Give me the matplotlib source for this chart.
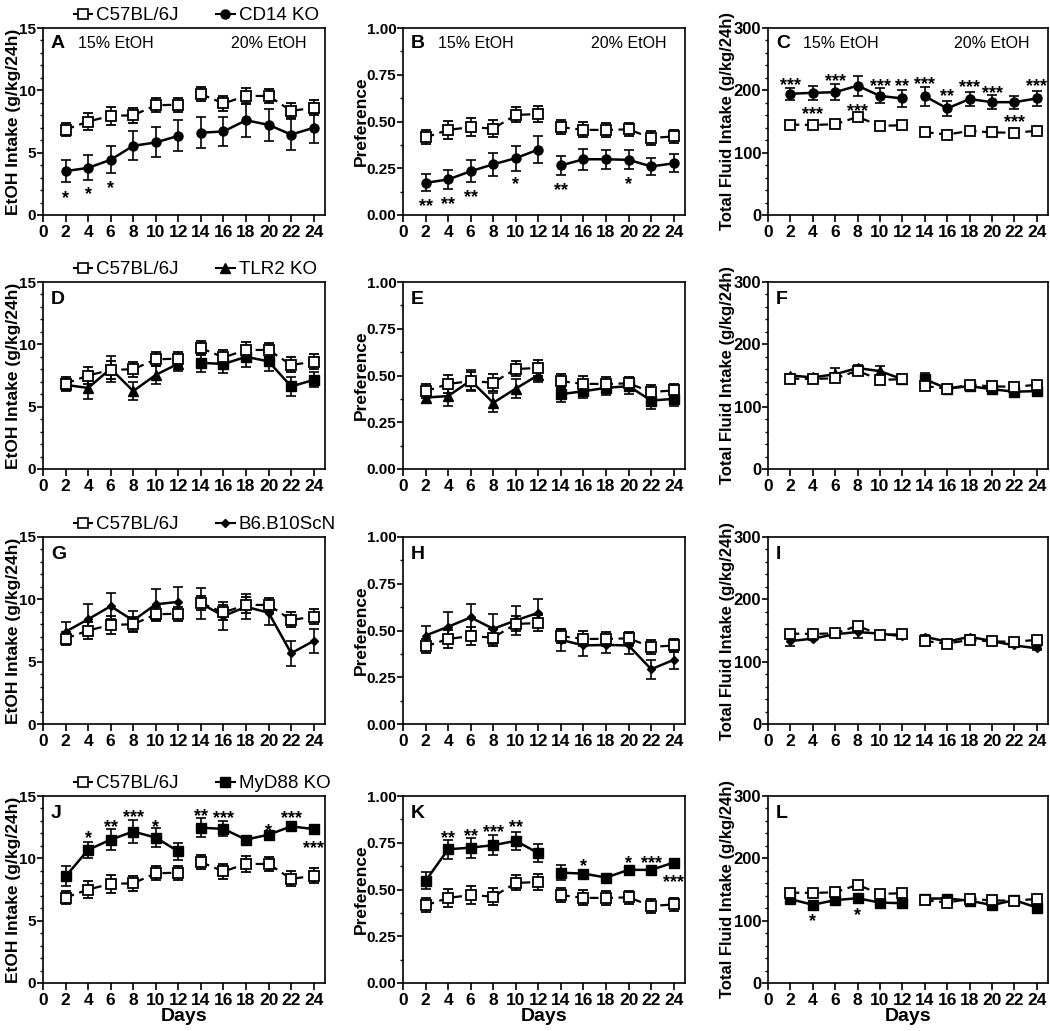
import matplotlib
matplotlib.use('Agg')
import matplotlib.pyplot as plt
from matplotlib.lines import Line2D
from matplotlib.ticker import MultipleLocator, FormatStrFormatter

plt.rcParams['font.family'] = ['Liberation Sans', 'DejaVu Sans']

# ---------------- data ----------------
days = [2, 4, 6, 8, 10, 12, 14, 16, 18, 20, 22, 24]

wt_etoh = [6.85, 7.5, 7.95, 8.0, 8.8, 8.85, 9.7, 8.95, 9.55, 9.55, 8.35, 8.6]
wt_etoh_err = [0.55, 0.65, 0.75, 0.6, 0.55, 0.55, 0.55, 0.6, 0.65, 0.55, 0.6, 0.6]
wt_pref = [0.415, 0.455, 0.47, 0.462, 0.535, 0.54, 0.47, 0.455, 0.455, 0.458, 0.412, 0.42]
wt_pref_err = [0.037, 0.046, 0.05, 0.046, 0.04, 0.042, 0.037, 0.04, 0.037, 0.034, 0.037, 0.035]
wt_fluid = [145, 144.5, 145.5, 157.5, 143, 144, 133, 129, 135, 132.5, 132, 135]
wt_fluid_err = [3, 3, 3, 4, 3, 3, 3, 3, 3, 3, 3, 3]

cd14_etoh = [3.52, 3.78, 4.43, 5.55, 5.82, 6.35, 6.6, 6.7, 7.6, 7.23, 6.45, 7.0]
cd14_etoh_err = [0.88, 1.0, 1.1, 1.15, 1.2, 1.25, 1.25, 1.2, 1.35, 1.3, 1.25, 1.2]
cd14_pref = [0.172, 0.19, 0.234, 0.271, 0.304, 0.35, 0.265, 0.298, 0.298, 0.295, 0.26, 0.276]
cd14_pref_err = [0.045, 0.05, 0.058, 0.062, 0.067, 0.072, 0.053, 0.055, 0.052, 0.05, 0.045, 0.048]
cd14_fluid = [194.5, 196, 197, 207.5, 191, 187, 190.5, 171, 186, 181, 181, 187]
cd14_fluid_err = [10, 11, 13, 16, 12, 14, 15, 12, 11, 11, 10.5, 12]

tlr2_etoh = [6.75, 6.5, 8.05, 6.25, 7.55, 8.45, 8.52, 8.42, 9.0, 8.63, 6.62, 7.15]
tlr2_etoh_err = [0.5, 0.9, 1.05, 0.75, 0.7, 0.6, 0.7, 0.75, 0.8, 0.8, 0.75, 0.6]
tlr2_pref = [0.382, 0.39, 0.473, 0.354, 0.43, 0.503, 0.40, 0.416, 0.434, 0.443, 0.366, 0.375]
tlr2_pref_err = [0.03, 0.055, 0.055, 0.05, 0.05, 0.04, 0.04, 0.035, 0.04, 0.04, 0.045, 0.04]
tlr2_fluid = [150, 147, 152, 162, 157, 144, 144, 129, 133, 128, 124, 125]
tlr2_fluid_err = [3, 3, 10, 5, 9, 3, 10, 3, 3, 3, 3, 3]

b6_etoh = [7.4, 8.4, 9.45, 8.3, 9.6, 9.8, 9.67, 8.66, 9.4, 8.93, 5.68, 6.66]
b6_etoh_err = [0.8, 1.25, 1.05, 0.8, 1.25, 1.2, 1.25, 1.15, 1.0, 0.95, 1.0, 1.0]
b6_pref = [0.473, 0.52, 0.57, 0.509, 0.554, 0.595, 0.45, 0.42, 0.423, 0.42, 0.293, 0.343]
b6_pref_err = [0.05, 0.08, 0.072, 0.08, 0.077, 0.075, 0.057, 0.054, 0.043, 0.045, 0.05, 0.05]
b6_fluid = [133, 137, 144, 147.5, 145, 141, 140, 132, 140, 133, 126, 121.5]
b6_fluid_err = [8, 3, 3, 9, 3, 3, 3, 3, 3, 3, 3, 3]

myd_etoh = [8.55, 10.68, 11.5, 12.15, 11.66, 10.55, 12.46, 12.36, 11.5, 11.9, 12.56, 12.35]
myd_etoh_err = [0.8, 0.62, 0.85, 0.9, 0.75, 0.72, 0.75, 0.6, 0.2, 0.2, 0.2, 0.2]
myd_pref = [0.546, 0.715, 0.724, 0.737, 0.76, 0.694, 0.59, 0.585, 0.564, 0.605, 0.605, 0.644]
myd_pref_err = [0.045, 0.05, 0.054, 0.055, 0.05, 0.048, 0.04, 0.015, 0.01, 0.01, 0.01, 0.01]
myd_fluid = [134.5, 125.5, 133, 136, 129, 128, 135.5, 135.5, 132, 125, 133, 121]
myd_fluid_err = [3, 3, 3, 3, 3, 3, 3, 3, 3, 3, 3, 3]

wt_label = 'C57BL/6J'
ko_labels = ['CD14 KO', 'TLR2 KO', 'B6.B10ScN', 'MyD88 KO']
panel_letters = ['A', 'B', 'C', 'D', 'E', 'F', 'G', 'H', 'I', 'J', 'K', 'L']
ylabels = ['EtOH Intake (g/kg/24h)', 'Preference', 'Total Fluid Intake (g/kg/24h)']
conc_labels = ['15% EtOH', '20% EtOH']
xticks = [0, 2, 4, 6, 8, 10, 12, 14, 16, 18, 20, 22, 24]

stars_A = [(2, 1.85, '*'), (4, 2.1, '*'), (6, 2.65, '*')]
stars_B = [(2, 0.08, '**'), (4, 0.088, '**'), (6, 0.124, '**'), (10, 0.195, '*'),
           (14, 0.165, '**'), (20, 0.195, '*')]
stars_C = [(2, 218, '***'), (4, 170.5, '***'), (6, 223.5, '***'), (8, 176, '***'),
           (10, 215.5, '***'), (12, 215.5, '**'), (14, 220, '***'), (16, 200, '**'),
           (18, 214.5, '***'), (20, 205, '***'), (22, 159, '***'), (24, 216, '***')]
stars_J = [(4, 12.06, '*'), (6, 13.0, '**'), (8, 13.74, '***'), (10, 13.0, '*'),
           (14, 13.88, '**'), (16, 13.7, '***'), (20, 12.68, '*'), (22, 13.67, '***'),
           (24, 11.26, '***')]
stars_K = [(4, 0.804, '**'), (6, 0.817, '**'), (8, 0.84, '***'), (10, 0.863, '**'),
           (16, 0.657, '*'), (20, 0.674, '*'), (22, 0.671, '***'), (24, 0.57, '***')]
stars_L = [(4, 108, '*'), (8, 117.5, '*')]

wt_rows = [(wt_etoh, wt_etoh_err), (wt_pref, wt_pref_err), (wt_fluid, wt_fluid_err)]
ko_rows = [
    [(cd14_etoh, cd14_etoh_err), (cd14_pref, cd14_pref_err), (cd14_fluid, cd14_fluid_err)],
    [(tlr2_etoh, tlr2_etoh_err), (tlr2_pref, tlr2_pref_err), (tlr2_fluid, tlr2_fluid_err)],
    [(b6_etoh, b6_etoh_err), (b6_pref, b6_pref_err), (b6_fluid, b6_fluid_err)],
    [(myd_etoh, myd_etoh_err), (myd_pref, myd_pref_err), (myd_fluid, myd_fluid_err)],
]
stars = {0: stars_A, 1: stars_B, 2: stars_C, 9: stars_J, 10: stars_K, 11: stars_L}

# ---------------- style ----------------
ko_marker = [('o', 'o', 6.5), ('^', 's', 6.5), ('D', 'D', 4.5), ('s', 's', 6.5)]
ylims = [(0, 15), (0, 1.0), (0, 300)]
ymajor = [5, 0.25, 100]
yminor = [1, 0.125, 20]
yfmt = ['%d', '%.2f', '%d']
ytick_size = [11, 11, 12]
ylab_x = [-0.078, -0.122, -0.118]
ylab_size = [12.5, 12.5, 12]

W, H = 1050, 1031
col_left = [43, 403, 768]
col_w = [282, 282, 280]
row_top = [28, 282, 537, 796]
ax_h = 187

fig = plt.figure(figsize=(W / 100, H / 100), dpi=100)

segs = [(0, 6), (6, 12)]
ebkw = dict(capsize=3.5, elinewidth=1.2, capthick=1.2, ecolor='black')

for r in range(4):
    for c in range(3):
        idx = r * 3 + c
        ax = fig.add_axes([col_left[c] / W, 1 - (row_top[r] + ax_h) / H,
                           col_w[c] / W, ax_h / H])
        ko_y, ko_e = ko_rows[r][c]
        wy, we = wt_rows[c]
        m1, m2, ms = ko_marker[r]
        for si, (a, b) in enumerate(segs):
            mk = m1 if si == 0 else m2
            ax.errorbar(days[a:b], ko_y[a:b], yerr=ko_e[a:b], color='black',
                        marker=mk, ms=ms, mfc='black', mec='black', lw=1.8,
                        ls='-', zorder=2, **ebkw)
            ax.errorbar(days[a:b], wy[a:b], yerr=we[a:b], color='black',
                        marker='s', ms=6.5, mfc='white', mec='black', mew=1.3,
                        lw=1.6, ls=(0, (4, 2.5)), zorder=3, **ebkw)
        ax.set_xlim(0, 25)
        ax.set_ylim(*ylims[c])
        ax.set_xticks(xticks)
        ax.set_xticklabels([str(t) for t in xticks], fontweight='bold', fontsize=12.5)
        ax.yaxis.set_major_locator(MultipleLocator(ymajor[c]))
        ax.yaxis.set_minor_locator(MultipleLocator(yminor[c]))
        ax.yaxis.set_major_formatter(FormatStrFormatter(yfmt[c]))
        for lbl in ax.get_yticklabels():
            lbl.set_fontweight('bold')
        ax.tick_params(axis='y', which='major', labelsize=ytick_size[c], direction='out',
                       length=4, width=1.2, pad=0.8)
        ax.tick_params(axis='y', which='minor', direction='out', length=2.5, width=1.0)
        ax.tick_params(axis='x', which='major', direction='out', length=5,
                       width=1.2, pad=2)
        for sp in ax.spines.values():
            sp.set_linewidth(1.2)
        ax.set_ylabel(ylabels[c], fontweight='bold', fontsize=ylab_size[c])
        ax.yaxis.set_label_coords(ylab_x[c], 0.5)
        ly = 0.915 if r == 0 else 0.905
        ax.text(0.028, ly, panel_letters[idx], transform=ax.transAxes,
                fontsize=14, fontweight='bold', va='center', ha='left')
        if r == 0:
            ax.text(0.125, ly, conc_labels[0], transform=ax.transAxes,
                    fontsize=11.5, va='center', ha='left')
            ax.text(0.935, ly, conc_labels[1], transform=ax.transAxes,
                    fontsize=11.5, va='center', ha='right')
        if idx in stars:
            for (sx, sy, s) in stars[idx]:
                ax.annotate(s, (sx, sy), xytext=(0, -4.5), textcoords='offset points',
                            ha='center', va='center', fontsize=13, fontweight='bold')
        if r == 3:
            ax.set_xlabel('Days', fontweight='bold', fontsize=14)
            ax.xaxis.set_label_coords(0.5, -0.135)
        if c == 0:
            h_wt = Line2D([], [], color='black', marker='s', ms=6.5, mfc='white',
                          mec='black', mew=1.2, lw=1.5)
            h_ko = Line2D([], [], color='black', marker=m1, ms=ms, mfc='black',
                          mec='black', lw=1.5)
            ax.legend([h_wt, h_ko], [wt_label, ko_labels[r]], loc='lower left',
                      bbox_to_anchor=(0.095, 1.0), ncol=2, frameon=False,
                      fontsize=13.5, handlelength=1.0, handletextpad=0.2,
                      columnspacing=2.0, borderaxespad=0.1, borderpad=0.1,
                      numpoints=1)

fig.savefig('out.png', dpi=100)
